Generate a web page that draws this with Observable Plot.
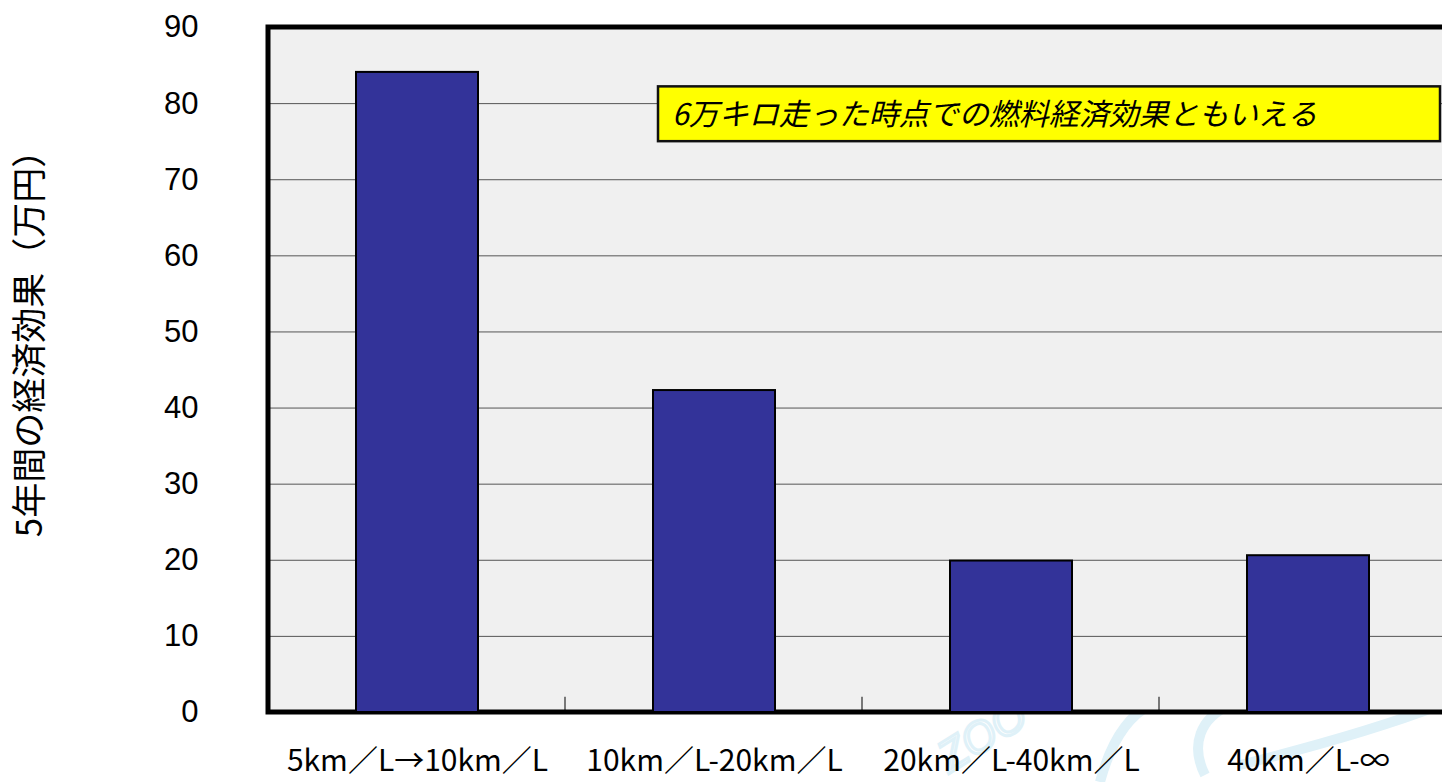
<!DOCTYPE html>
<html lang="ja">
<head>
<meta charset="utf-8">
<script src="https://cdn.jsdelivr.net/npm/d3@7"></script>
<script src="https://cdn.jsdelivr.net/npm/@observablehq/plot@0.6"></script>
<style>
  html, body { margin: 0; padding: 0; background: #fff; overflow: hidden; width: 1442px; height: 782px; }
  #chart { width: 1442px; height: 782px; overflow: hidden; }
  #chart svg { max-width: none !important; display: block; }
</style>
</head>
<body>
<div id="chart"></div>
<script>
// Fuel-efficiency improvement bands and the five-year saving for each (万円)
const categories = ["5km／L→10km／L", "10km／L-20km／L", "20km／L-40km／L", "40km／L-∞"];
const savings = [84.1, 42.3, 19.9, 20.6];
const yTicks = [0, 10, 20, 30, 40, 50, 60, 70, 80, 90];
const gridValues = [10, 20, 30, 40, 50, 60, 70, 80];
const yLabel = "5年間の経済効果（万円）";
const note = "6万キロ走った時点での燃料経済効果ともいえる";
const noteRange = [75.0, 82.2]; // vertical extent of the note box, in 万円

const rows = categories.map((category, i) => ({category, value: savings[i]}));

const JP = "'Noto Sans CJK JP', 'Noto Sans', sans-serif";
const W = 1442;
const plotLeft = 268;
const plotRight = 1456; // the plot area continues past the right edge of the page

// Width of one category band (outer padding is half the inner padding,
// so every band is an equal slice of the plot area).
const step = (plotRight - plotLeft) / categories.length;

// Light grey plot-area background
function plotArea(index, scales, values, dims) {
  const top = scales.y(90), bottom = scales.y(0);
  return d3.create("svg:rect")
    .attr("x", plotLeft).attr("y", top)
    .attr("width", dims.width - plotLeft).attr("height", bottom - top)
    .attr("fill", "#f0f0f0").node();
}

// Heavy top, left and bottom borders (open on the right)
function plotBorders(index, scales, values, dims) {
  const top = scales.y(90), bottom = scales.y(0);
  return d3.create("svg:path")
    .attr("stroke", "black").attr("stroke-width", 5).attr("fill", "none")
    .attr("d", `M${dims.width + 10},${top}H${plotLeft}V${bottom}H${dims.width + 10}`).node();
}

// Small upward ticks on the baseline between category bands
function bandTicks(index, scales, values, dims) {
  const base = scales.y(0);
  const g = d3.create("svg:g");
  for (let i = 1; i < categories.length; ++i) {
    const px = plotLeft + i * step;
    g.append("line")
      .attr("x1", px).attr("x2", px)
      .attr("y1", base - 2).attr("y2", scales.y(2))
      .attr("stroke", "black").attr("stroke-width", 1);
  }
  return g.node();
}

// Yellow call-out box with the italic note
function noteMark(index, scales, values, dims) {
  const left = plotLeft + step + 93;
  const right = dims.width - 2;
  const top = scales.y(noteRange[1]);
  const bottom = scales.y(noteRange[0]);
  const g = d3.create("svg:g");
  g.append("rect")
    .attr("x", left).attr("y", top)
    .attr("width", right - left).attr("height", bottom - top)
    .attr("fill", "#ffff00").attr("stroke", "#111").attr("stroke-width", 2.5);
  g.append("text")
    .attr("x", left + 14).attr("y", (top + bottom) / 2)
    .attr("dy", "0.36em")
    .attr("text-anchor", "start")
    .attr("font-family", JP).attr("font-size", 30).attr("font-style", "italic")
    .attr("fill", "black")
    .text(note);
  return g.node();
}

// Faint site mark behind the lower labels
function watermark(index, scales, values, dims) {
  const g = d3.create("svg:g").attr("fill", "none").attr("stroke", "#dff1f8").attr("stroke-width", 10);
  g.append("text")
    .attr("x", 990).attr("y", 748)
    .attr("transform", "rotate(-32 990 748)")
    .attr("text-anchor", "middle")
    .attr("font-family", "'Liberation Sans', sans-serif").attr("font-style", "italic")
    .attr("font-size", 44).attr("stroke-width", 3).attr("fill", "none")
    .text("ZOO");
  g.append("path").attr("d", "M1100 782 C1110 745 1125 718 1150 705");
  g.append("path").attr("d", "M1205 775 C1190 745 1200 718 1230 705");
  g.append("path").attr("d", "M1240 765 C1300 750 1380 728 1440 705");
  return g.node();
}

const chart = Plot.plot({
  width: W,
  height: 782,
  marginLeft: plotLeft,
  marginRight: 0,
  marginTop: 27,
  marginBottom: 70,
  style: {fontFamily: JP, background: "white", color: "black", overflow: "hidden"},
  x: {domain: categories, range: [plotLeft, plotRight], paddingInner: 0.59, paddingOuter: 0.295, axis: null},
  y: {domain: [0, 90], axis: null},
  marks: [
    watermark,
    plotArea,
    Plot.ruleY(gridValues, {stroke: "#555", strokeWidth: 1}),
    plotBorders,
    bandTicks,
    Plot.barY(rows, {x: "category", y: "value", fill: "#333399", stroke: "black", strokeWidth: 2}),
    Plot.axisY({ticks: yTicks, tickSize: 0, tickPadding: 70, fontSize: 31,
                fontFamily: "'Liberation Sans', Arial, sans-serif", label: null}),
    Plot.axisX({tickSize: 0, tickPadding: 37, fontSize: 30, fontFamily: JP, label: null}),
    Plot.text([yLabel], {frameAnchor: "left", dx: -238, dy: -35, rotate: -90,
                         textAnchor: "middle", fontSize: 35, fontFamily: JP, fill: "black",
                         letterSpacing: "1px"}),
    noteMark
  ]
});

chart.style.maxWidth = "none";
document.getElementById("chart").appendChild(chart);
</script>
</body>
</html>
